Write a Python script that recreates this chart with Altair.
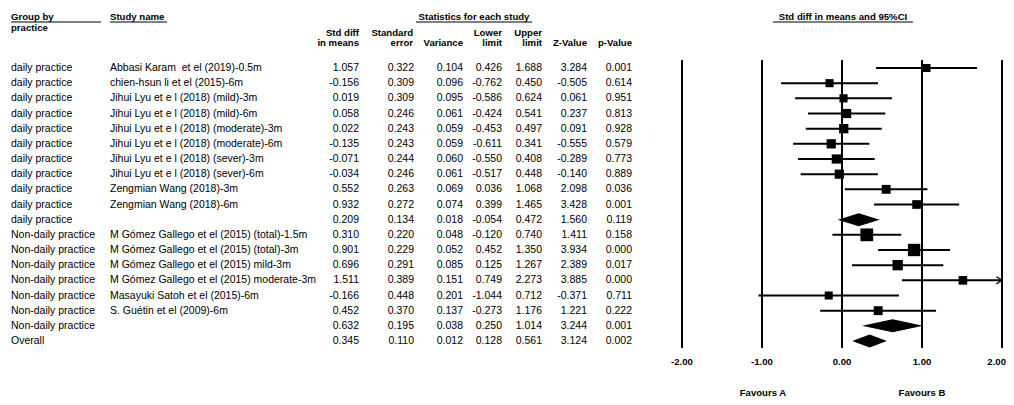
import altair as alt
import pandas as pd

FONT = "Liberation Sans"

groups = ["daily practice"] * 11 + ["Non-daily practice"] * 7 + ["Overall"]
studies = [
    "Abbasi Karam\u00a0 et el (2019)-0.5m",
    "chien-hsun li et el (2015)-6m",
    "Jihui Lyu et e l (2018) (mild)-3m",
    "Jihui Lyu et e l (2018) (mild)-6m",
    "Jihui Lyu et e l (2018) (moderate)-3m",
    "Jihui Lyu et e l (2018) (moderate)-6m",
    "Jihui Lyu et e l (2018) (sever)-3m",
    "Jihui Lyu et e l (2018) (sever)-6m",
    "Zengmian Wang (2018)-3m",
    "Zengmian Wang (2018)-6m",
    "",
    "M Gómez Gallego et el (2015) (total)-1.5m",
    "M Gómez Gallego et el (2015) (total)-3m",
    "M Gómez Gallego et el (2015) mild-3m",
    "M Gómez Gallego et el (2015) moderate-3m",
    "Masayuki Satoh et el (2015)-6m",
    "S. Guétin et el (2009)-6m",
    "",
    "",
]
std_diff = [1.057, -0.156, 0.019, 0.058, 0.022, -0.135, -0.071, -0.034, 0.552, 0.932, 0.209,
            0.310, 0.901, 0.696, 1.511, -0.166, 0.452, 0.632, 0.345]
std_err = [0.322, 0.309, 0.309, 0.246, 0.243, 0.243, 0.244, 0.246, 0.263, 0.272, 0.134,
           0.220, 0.229, 0.291, 0.389, 0.448, 0.370, 0.195, 0.110]
variance = [0.104, 0.096, 0.095, 0.061, 0.059, 0.059, 0.060, 0.061, 0.069, 0.074, 0.018,
            0.048, 0.052, 0.085, 0.151, 0.201, 0.137, 0.038, 0.012]
lower = [0.426, -0.762, -0.586, -0.424, -0.453, -0.611, -0.550, -0.517, 0.036, 0.399, -0.054,
         -0.120, 0.452, 0.125, 0.749, -1.044, -0.273, 0.250, 0.128]
upper = [1.688, 0.450, 0.624, 0.541, 0.497, 0.341, 0.408, 0.448, 1.068, 1.465, 0.472,
         0.740, 1.350, 1.267, 2.273, 0.712, 1.176, 1.014, 0.561]
z_value = [3.284, -0.505, 0.061, 0.237, 0.091, -0.555, -0.289, -0.140, 2.098, 3.428, 1.560,
           1.411, 3.934, 2.389, 3.885, -0.371, 1.221, 3.244, 3.124]
p_value = [0.001, 0.614, 0.951, 0.813, 0.928, 0.579, 0.773, 0.889, 0.036, 0.001, 0.119,
           0.158, 0.000, 0.017, 0.000, 0.711, 0.222, 0.001, 0.002]
axis_ticks = [-2, -1, 0, 1, 2]

df = pd.DataFrame({
    "row": list(range(len(groups))),
    "group": groups,
    "study": studies,
    "est": std_diff,
    "se": std_err,
    "var": variance,
    "lo": lower,
    "hi": upper,
    "z": z_value,
    "p": p_value,
})
df["summary"] = df["study"] == ""
for c in ["est", "se", "var", "lo", "hi", "z", "p"]:
    df[c + "_t"] = df[c].map(lambda v: f"{v:.3f}")

studies_df = df[~df["summary"]].copy()
inv = 1.0 / studies_df["var"]
studies_df["w"] = inv / inv.groupby(studies_df["group"]).transform("sum")

summ = df[df["summary"]]
HALF = 0.43  # diamond half-height in row units
dia_frames = []
for _, r in summ.iterrows():
    rr = int(r["row"])
    dia_frames.append(pd.DataFrame({
        "x": [float(r["lo"]), float(r["est"]), float(r["hi"])],
        "y": [rr, rr - HALF, rr],
        "y2": [rr, rr + HALF, rr],
    }))

ticks_df = pd.DataFrame({"t": axis_ticks, "lab": [f"{t:.2f}" for t in axis_ticks]})

OFF = 8  # page margin
W, H = 998, 389
xs = alt.Scale(domain=[-2, 2], range=[682 - OFF, 1002 - OFF], clamp=True)
ys = alt.Scale(domain=[0, 18], range=[68 - OFF, 341 - OFF])
TXT = 10.5
HDR = 9.6


def label(text, x, y, align="left", bold=True, size=HDR, baseline="middle"):
    return alt.Chart(pd.DataFrame({"t": [text]})).mark_text(
        align=align, baseline=baseline, font=FONT, fontSize=size,
        fontWeight="bold" if bold else "normal", color="black"
    ).encode(x=alt.value(x - OFF), y=alt.value(y - OFF), text="t:N")


def uline(x1, x2, y):
    return alt.Chart(pd.DataFrame({"a": [0]})).mark_rule(color="black", strokeWidth=1).encode(
        x=alt.value(x1 - OFF), x2=alt.value(x2 - OFF), y=alt.value(y - OFF))


layers = []

# headers
layers += [
    label("Group by", 11, 17), label("practice", 11, 28), uline(11, 101, 22),
    label("Study name", 110, 17), uline(110, 167, 22),
    label("Statistics for each study", 474, 17, align="center"), uline(416, 532, 22),
    label("Std diff", 359, 33, align="right"), label("in means", 359, 43, align="right"),
    label("Standard", 413, 33, align="right"), label("error", 413, 43, align="right"),
    label("Variance", 463, 43, align="right"),
    label("Lower", 502, 33, align="right"), label("limit", 502, 43, align="right"),
    label("Upper", 542, 33, align="right"), label("limit", 542, 43, align="right"),
    label("Z-Value", 587, 43, align="right"),
    label("p-Value", 632, 43, align="right"),
    label("Std diff in means and 95%CI", 843, 17, align="center"), uline(773, 913, 22),
    label("Favours A", 763, 396, align="center", baseline="alphabetic"),
    label("Favours B", 922, 396, align="center", baseline="alphabetic"),
]

# text columns
yrow = alt.Y("row:Q", scale=ys, axis=None)
layers.append(alt.Chart(df).mark_text(align="left", baseline="middle", font=FONT, fontSize=TXT, color="black").encode(
    x=alt.value(11 - OFF), y=yrow, text="group:N"))
layers.append(alt.Chart(df).mark_text(align="left", baseline="middle", font=FONT, fontSize=TXT, color="black").encode(
    x=alt.value(110 - OFF), y=yrow, text="study:N"))
cols = [("est_t", 359), ("se_t", 414), ("var_t", 463), ("lo_t", 502), ("hi_t", 542), ("z_t", 587), ("p_t", 632)]
for c, xr in cols:
    layers.append(alt.Chart(df).mark_text(align="right", baseline="middle", font=FONT, fontSize=TXT, color="black").encode(
        x=alt.value(xr - OFF), y=yrow, text=f"{c}:N"))

# vertical reference lines and tick labels
layers.append(alt.Chart(ticks_df).mark_rule(color="black", strokeWidth=2).encode(
    x=alt.X("t:Q", scale=xs, axis=None), y=alt.value(60 - OFF), y2=alt.value(348 - OFF)))
layers.append(alt.Chart(ticks_df).transform_filter("datum.t < 2").mark_text(
    align="center", baseline="middle", font=FONT, fontSize=HDR, fontWeight="bold", color="black").encode(
    x=alt.X("t:Q", scale=xs, axis=None), y=alt.value(362 - OFF), text="lab:N"))
layers.append(alt.Chart(ticks_df).transform_filter("datum.t >= 2").mark_text(
    align="right", dx=4, baseline="middle", font=FONT, fontSize=HDR, fontWeight="bold", color="black").encode(
    x=alt.X("t:Q", scale=xs, axis=None), y=alt.value(362 - OFF), text="lab:N"))

# confidence intervals
layers.append(alt.Chart(studies_df).mark_rule(color="black", strokeWidth=2).encode(
    x=alt.X("lo:Q", scale=xs, axis=None), x2="hi:Q", y=yrow))
# arrows for CIs beyond axis
layers.append(alt.Chart(studies_df).transform_filter("datum.hi > 2").mark_point(
    shape="M-1.6,-1L0,0L-1.6,1", filled=False, color="black", strokeWidth=1.2, size=50, opacity=1).encode(
    x=alt.X("hi:Q", scale=xs, axis=None), y=yrow))
# squares
layers.append(alt.Chart(studies_df).mark_square(filled=True, color="black", opacity=1).encode(
    x=alt.X("est:Q", scale=xs, axis=None), y=yrow,
    size=alt.Size("w:Q", scale=alt.Scale(domain=[0.06, 0.3], range=[60, 165]), legend=None)))
# diamonds
for dfr in dia_frames:
    layers.append(alt.Chart(dfr).mark_area(color="black", fill="black", orient="vertical", opacity=1).encode(
        x=alt.X("x:Q", scale=xs, axis=None), y=alt.Y("y:Q", scale=ys, axis=None), y2="y2:Q"))

chart = alt.layer(*layers).properties(
    width=W, height=H, autosize="none", padding=0
).configure_view(stroke=None)

chart.save("out.html", embed_options={"renderer": "svg", "actions": False})
